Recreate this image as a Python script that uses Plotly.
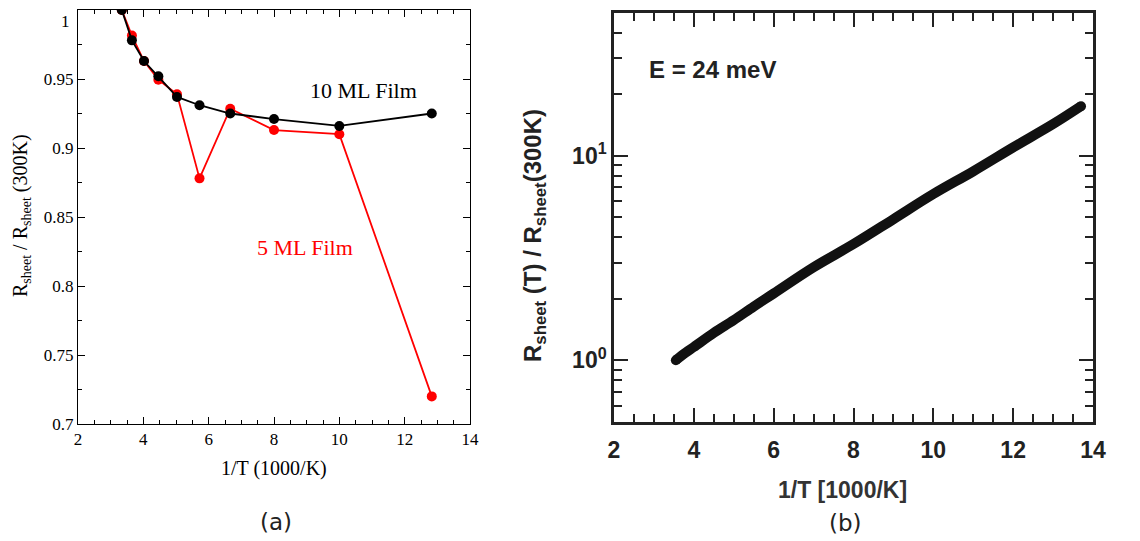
import plotly.graph_objects as go

# ---- Panel (a) data ----
x_10ml = [3.34, 3.65, 4.02, 4.46, 5.03, 5.72, 6.66, 8.0, 10.0, 12.83]
y_10ml = [1.0, 0.978, 0.963, 0.952, 0.937, 0.931, 0.925, 0.921, 0.916, 0.925]
x_5ml = [3.34, 3.65, 4.02, 4.46, 5.03, 5.72, 6.66, 8.0, 10.0, 12.83]
y_5ml = [1.0, 0.9815, 0.963, 0.9495, 0.939, 0.878, 0.9285, 0.913, 0.910, 0.720]

# ---- Panel (b) data ----
x_b = [3.55, 3.8, 4.0, 4.5, 5.0, 5.5, 6.0, 7.0, 8.0, 9.0, 10.0, 11.0, 12.0, 13.0, 13.7]
y_b = [1.0, 1.09, 1.16, 1.36, 1.57, 1.83, 2.12, 2.85, 3.7, 4.9, 6.5, 8.4, 11.0, 14.3, 17.5]

a_xticks = [2, 4, 6, 8, 10, 12, 14]
a_yticks = [0.7, 0.75, 0.8, 0.85, 0.9, 0.95, 1.0]
a_yticklabels = ["0.7", "0.75", "0.8", "0.85", "0.9", "0.95", ""]
b_xticks = [2, 4, 6, 8, 10, 12, 14]
b_yticks = [1, 10]
b_yticklabels = ["<b>10<sup>0</sup></b>", "<b>10<sup>1</sup></b>"]
b_yminor = [0.5, 0.6, 0.7, 0.8, 0.9, 2, 3, 4, 5, 6, 7, 8, 9, 20, 30, 40, 50]

SERIF = "Liberation Serif, Times New Roman, serif"
SANS = "Liberation Sans, Arial, sans-serif"
VERD = "DejaVu Sans, Verdana, sans-serif"

W, H = 1140, 541

fig = go.Figure()

fig.add_trace(go.Scatter(x=x_5ml, y=y_5ml, mode="lines+markers",
                         line=dict(color="#ff0000", width=1.8),
                         marker=dict(color="#ff0000", size=10),
                         xaxis="x", yaxis="y", showlegend=False))
fig.add_trace(go.Scatter(x=x_10ml, y=y_10ml, mode="lines+markers",
                         line=dict(color="black", width=1.8),
                         marker=dict(color="black", size=10),
                         xaxis="x", yaxis="y", showlegend=False))

fig.add_trace(go.Scatter(x=x_b, y=y_b, mode="lines",
                         line=dict(color="#111111", width=10, shape="spline"),
                         xaxis="x2", yaxis="y2", showlegend=False))
fig.add_trace(go.Scatter(x=[x_b[0], x_b[-1]], y=[y_b[0], y_b[-1]], mode="markers",
                         marker=dict(color="#111111", size=10),
                         xaxis="x2", yaxis="y2", showlegend=False))

axis_a = dict(showline=True, linecolor="black", linewidth=1, mirror="ticks",
              ticks="inside", ticklen=7, tickwidth=1, tickcolor="black",
              showgrid=False, zeroline=False, automargin=False,
              tickfont=dict(family=SERIF, size=17, color="black"))

axis_b = dict(showline=True, linecolor="#222", linewidth=2.5, mirror="ticks",
              ticks="inside", ticklen=14, tickwidth=2, tickcolor="#222",
              showgrid=False, zeroline=False, automargin=False,
              tickfont=dict(family=SANS, size=23, color="#222"))

fig.update_layout(
    width=W, height=H,
    template="none",
    margin=dict(l=0, r=0, t=0, b=0),
    paper_bgcolor="white", plot_bgcolor="white",
    xaxis=dict(domain=[78 / W, 470 / W], range=[2, 14], anchor="y",
               tickmode="array", tickvals=a_xticks,
               minor=dict(tickmode="linear", dtick=0.5, tick0=2, ticks="inside",
                          ticklen=4, tickcolor="black", tickwidth=1),
               **axis_a),
    yaxis=dict(domain=[1 - 424 / H, 1 - 10 / H], range=[0.7, 1.0], anchor="x",
               tickmode="array", tickvals=a_yticks, ticktext=a_yticklabels,
               minor=dict(tickmode="linear", dtick=0.025, tick0=0.7, ticks="inside",
                          ticklen=4, tickcolor="black", tickwidth=1),
               **axis_a),
    xaxis2=dict(domain=[614 / W, 1093 / W], range=[2, 14], anchor="y2",
                tickmode="array", tickvals=b_xticks,
                ticktext=["<b>%d</b>" % v for v in b_xticks],
                ticklabelstandoff=6,
                minor=dict(tickmode="linear", dtick=0.5, tick0=2, ticks="inside",
                           ticklen=8, tickcolor="#222", tickwidth=2),
                **axis_b),
    yaxis2=dict(domain=[1 - 421.7 / H, 1 - 13 / H], type="log", range=[-0.301, 1.699], anchor="x2",
                tickmode="array", tickvals=b_yticks, ticktext=b_yticklabels,
                minor=dict(tickvals=b_yminor, ticks="inside", ticklen=8,
                           tickcolor="#222", tickwidth=2),
                **axis_b),
)


def ann(x, y, text, size, family, color, angle=0, xanchor="center", ref="paper"):
    if ref == "paper":
        return dict(x=x / W, y=1 - y / H, xref="paper", yref="paper", text=text,
                    showarrow=False, xanchor=xanchor, yanchor="middle", textangle=angle,
                    font=dict(family=family, size=size, color=color))
    return dict(x=x, y=y, xref="x", yref="y", text=text, showarrow=False,
                xanchor=xanchor, yanchor="middle",
                font=dict(family=family, size=size, color=color))


annotations = [
    ann(10.74, 0.942, "10 ML Film", 22, SERIF, "black", ref="data"),
    ann(8.96, 0.828, "5 ML Film", 22, SERIF, "#ff0000", ref="data"),
    ann(72, 21, "1", 17, SERIF, "black", xanchor="right"),
    ann(274, 468, "1/T (1000/K)", 20, SERIF, "black"),
    ann(22, 216, "R<sub>sheet</sub> / R<sub>sheet</sub> (300K)", 20, SERIF, "black", angle=-90),
    ann(276, 522, "(a)", 23, VERD, "#222"),
    ann(845, 523, "(b)", 23, VERD, "#222"),
    ann(842, 490, "<b>1/T [1000/K]</b>", 23, SANS, "#333"),
    ann(535, 236, "<b>R<sub>sheet</sub> (T) / R<sub>sheet</sub>(300K)</b>", 24, SANS, "#222", angle=-90),
    ann(647, 70, "<b>E = 24 meV</b>", 24, SANS, "#222", xanchor="left"),
]
fig.update_layout(annotations=annotations)

fig.write_html("out.html",
               config={"displayModeBar": False},
               post_script="document.body.style.margin='0px';document.body.style.overflow='hidden';")
